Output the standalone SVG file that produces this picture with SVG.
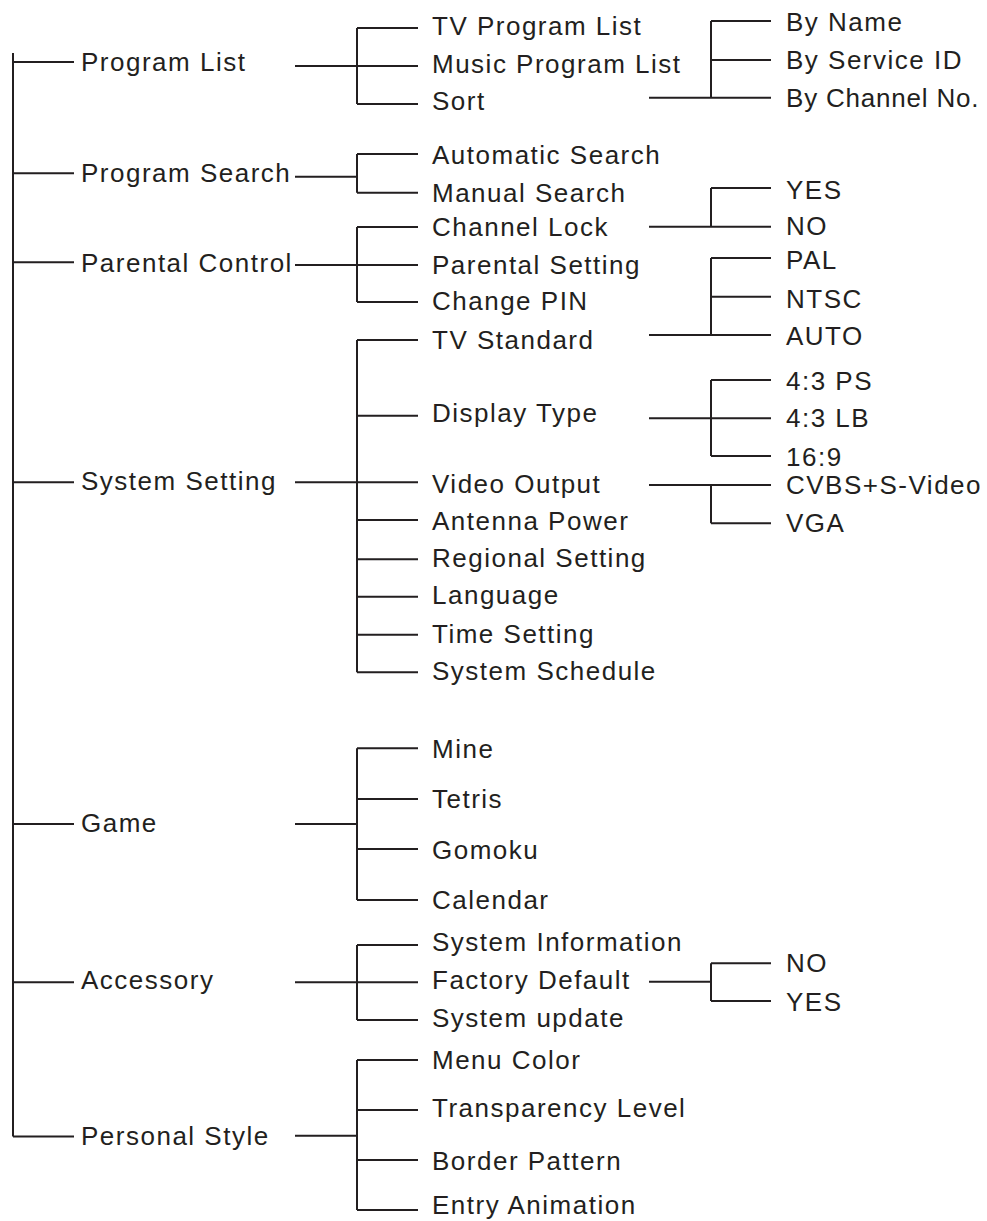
<svg xmlns="http://www.w3.org/2000/svg" width="987" height="1221" viewBox="0 0 987 1221">
<style>
text{font-family:"Liberation Sans",Arial,sans-serif;font-size:26px;letter-spacing:1.5px;fill:#231f20}
.c path{fill:none;stroke:#231f20;stroke-width:2}
</style>
<rect width="987" height="1221" fill="#fff"/>
<g class="c" id="connectors">
<path d="M13,53V1136.6"/>
<path d="M13,62H74M13,173.3H74M13,262.3H74M13,482.3H74M13,824H74M13,982.3H74M13,1136.6H74"/>
<path d="M295,66H357M357,28V104M357,28H418M357,66H418M357,104H418"/>
<path d="M295,176.7H357M357,154V192.7M357,154H418M357,192.7H418"/>
<path d="M295,265H357M357,227V302M357,227H418M357,265H418M357,302H418"/>
<path d="M295,482.3H357M357,340V672.3M357,340H418M357,415.7H418M357,482.3H418M357,520H418M357,559.3H418M357,596.7H418M357,634.7H418M357,672.3H418"/>
<path d="M295,824H357M357,748.3V900M357,748.3H418M357,799H418M357,849H418M357,900H418"/>
<path d="M295,982.3H357M357,945V1020M357,945H418M357,982.3H418M357,1020H418"/>
<path d="M295,1135.7H357M357,1060V1210M357,1060H418M357,1110H418M357,1160H418M357,1210H418"/>
<path d="M649,97.7H711M711,21V97.7M711,21H771M711,60H771M711,97.7H771"/>
<path d="M649,226.7H711M711,188V226.7M711,188H771M711,226.7H771"/>
<path d="M649,335H711M711,258V335M711,258H771M711,296.7H771M711,335H771"/>
<path d="M649,418.3H711M711,380V456M711,380H771M711,418.3H771M711,456H771"/>
<path d="M649,485H771M711,485V523.3M711,523.3H771"/>
<path d="M649,981.7H711M711,963.3V1001M711,963.3H771M711,1001H771"/>
</g>
<g id="program-list"><text x="81" y="70.5">Program List</text></g>
<g id="program-search"><text x="81" y="181.7">Program Search</text></g>
<g id="parental-control"><text x="81" y="271.7">Parental Control</text></g>
<g id="system-setting"><text x="81" y="490">System Setting</text></g>
<g id="game"><text x="81" y="832">Game</text></g>
<g id="accessory"><text x="81" y="989">Accessory</text></g>
<g id="personal-style"><text x="81" y="1144.6">Personal Style</text></g>
<g id="tv-program-list"><text x="432" y="35">TV Program List</text></g>
<g id="music-program-list"><text x="432" y="73.3">Music Program List</text></g>
<g id="sort"><text x="432" y="110">Sort</text></g>
<g id="automatic-search"><text x="432" y="164">Automatic Search</text></g>
<g id="manual-search"><text x="432" y="201.7">Manual Search</text></g>
<g id="channel-lock"><text x="432" y="235.7">Channel Lock</text></g>
<g id="parental-setting"><text x="432" y="274">Parental Setting</text></g>
<g id="change-pin"><text x="432" y="310">Change PIN</text></g>
<g id="tv-standard"><text x="432" y="349.3">TV Standard</text></g>
<g id="display-type"><text x="432" y="422.3">Display Type</text></g>
<g id="video-output"><text x="432" y="492.7">Video Output</text></g>
<g id="antenna-power"><text x="432" y="530">Antenna Power</text></g>
<g id="regional-setting"><text x="432" y="567.3">Regional Setting</text></g>
<g id="language"><text x="432" y="604">Language</text></g>
<g id="time-setting"><text x="432" y="642.7">Time Setting</text></g>
<g id="system-schedule"><text x="432" y="680">System Schedule</text></g>
<g id="mine"><text x="432" y="757.7">Mine</text></g>
<g id="tetris"><text x="432" y="807.8">Tetris</text></g>
<g id="gomoku"><text x="432" y="858.9">Gomoku</text></g>
<g id="calendar"><text x="432" y="908.7">Calendar</text></g>
<g id="system-information"><text x="432" y="951.2">System Information</text></g>
<g id="factory-default"><text x="432" y="989.2">Factory Default</text></g>
<g id="system-update"><text x="432" y="1027.2">System update</text></g>
<g id="menu-color"><text x="432" y="1069.3">Menu Color</text></g>
<g id="transparency-level"><text x="432" y="1117">Transparency Level</text></g>
<g id="border-pattern"><text x="432" y="1169.8">Border Pattern</text></g>
<g id="entry-animation"><text x="432" y="1214">Entry Animation</text></g>
<g id="by-name"><text x="786" y="30.7">By Name</text></g>
<g id="by-service-id"><text x="786" y="69">By Service ID</text></g>
<g id="by-channel-no"><text x="786" y="107" style="letter-spacing:0.8px">By Channel No.</text></g>
<g id="lock-yes"><text x="786" y="199">YES</text></g>
<g id="lock-no"><text x="786" y="235">NO</text></g>
<g id="pal"><text x="786" y="269">PAL</text></g>
<g id="ntsc"><text x="786" y="308">NTSC</text></g>
<g id="auto"><text x="786" y="345">AUTO</text></g>
<g id="ps-4-3"><text x="786" y="390">4:3 PS</text></g>
<g id="lb-4-3"><text x="786" y="427.3">4:3 LB</text></g>
<g id="wide-16-9"><text x="786" y="465.7">16:9</text></g>
<g id="cvbs-s-video"><text x="786" y="494">CVBS+S-Video</text></g>
<g id="vga"><text x="786" y="531.7">VGA</text></g>
<g id="default-no"><text x="786" y="972.3">NO</text></g>
<g id="default-yes"><text x="786" y="1010.7">YES</text></g>
</svg>
